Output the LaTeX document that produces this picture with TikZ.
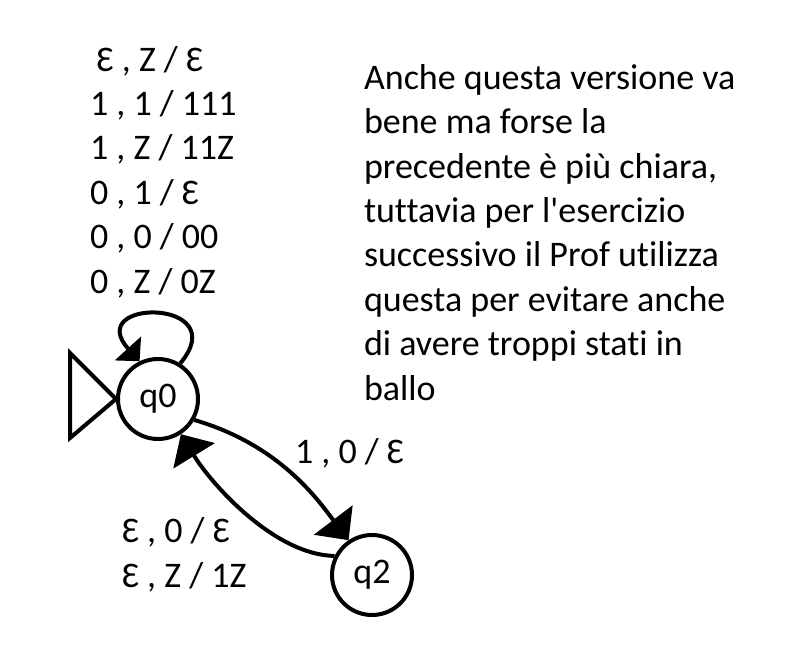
\documentclass[tikz,border=0pt]{standalone}
\usepackage{fontspec}
\setmainfont{Carlito}[Ligatures={TeXOff,CommonOff}]
\usetikzlibrary{arrows.meta}

\tikzset{every picture/.style={line width=3pt}}

\begin{document}
\begin{tikzpicture}[x=0.75pt,y=0.75pt,yscale=-1,xscale=1,
  stato/.style={draw,circle,minimum size=60pt,inner sep=0pt,font=\fontsize{27}{33}\selectfont},
  etichetta/.style={anchor=base west,inner sep=0pt,align=left,font=\fontsize{27}{33.3}\selectfont},
  freccia/.style={-{Triangle[length=19pt,width=36pt]}},
  ricciolo/.style={-{Triangle[length=13pt,width=26pt]}}]
\useasboundingbox (0,0) rectangle (798,670);

% States
\node [stato] (q0) at (158,399) {q0};
\node [stato] (q2) at (372,575) {q2};

%Shape: Triangle (initial)
\coordinate (in1) at (70,353);
\coordinate (in2) at (70,438);
\draw  (in1) -- (in2) -- (q0.west) -- cycle ;

%Curve Lines (loop)
\draw [ricciolo]  (q0.58) .. controls (235,298) and (82,298) .. (q0.116) ;
%Curve Lines
\draw [freccia]  (q0.-30) .. controls (280,445) and (318,500) .. (q2.124) ;
%Curve Lines
\draw [freccia]  (q2.153) .. controls (275,555) and (212,485) .. (q0.-57) ;

% Text Node (base = last line)
\node [etichetta] (loop) at (88,293) {\hspace*{5pt}Ɛ , Z / Ɛ\\1 , 1 / 111\\1 , Z / 11Z\\0 , 1 / Ɛ\\0 , 0 / 00\\0 , Z / 0Z};
% Text Node
\node [etichetta] (andata) at (293,463) {1 , 0 / Ɛ};
% Text Node
\node [etichetta] (ritorno) at (120,587) {Ɛ , 0 / Ɛ\\Ɛ , Z / 1Z};
% Text Node
\node [etichetta] (nota) at (362,400) {Anche questa versione va\\bene ma forse la\\precedente è più chiara,\\tuttavia per l'esercizio\\successivo il Prof utilizza\\questa per evitare anche\\di avere troppi stati in\\ballo};

\end{tikzpicture}
\end{document}
